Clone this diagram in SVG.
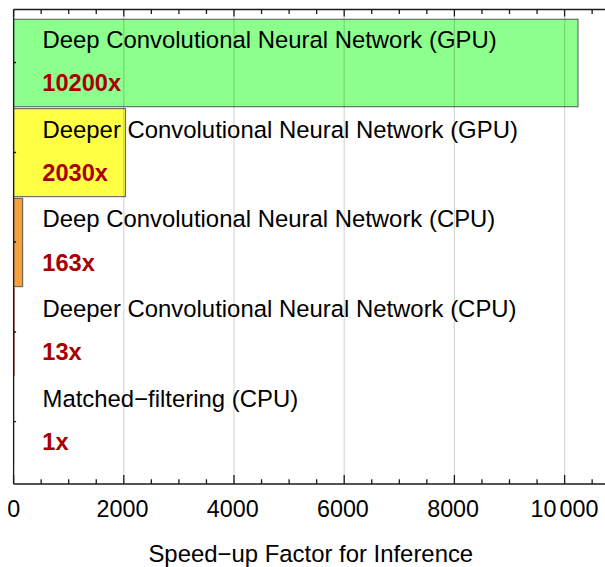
<svg xmlns="http://www.w3.org/2000/svg" width="605" height="567" viewBox="0 0 605 567">
  <style>
    .lbl { font-family: "Liberation Sans", Arial, sans-serif; font-size: 23.9px; fill: #000; }
    .val { font-family: "Liberation Sans", Arial, sans-serif; font-size: 23.6px; font-weight: bold; fill: #a80000; }
    .tick { font-family: "Liberation Sans", Arial, sans-serif; font-size: 23.3px; fill: #000; text-anchor: middle; }
    .axis { stroke: #1a1a1a; stroke-width: 1.3; fill: none; }
    .grid { stroke: #000; stroke-opacity: 0.16; stroke-width: 1.2; }
    .bar { stroke: #444; stroke-opacity: 0.75; stroke-width: 1.2; }
  </style>
  <rect width="605" height="567" fill="#fff"/>

  <!-- bars: x = 13.6 + value * 0.0551 -->
  <g id="bar-dcnn-gpu"><rect class="bar" x="13.6" y="19.3" width="564.4" height="87.4" fill="#8cff8c"/></g>
  <g id="bar-deeper-gpu"><rect class="bar" x="13.6" y="108.6" width="111.9" height="88" fill="#ffff44"/></g>
  <g id="bar-dcnn-cpu"><rect class="bar" x="13.6" y="198.4" width="9" height="88.2" fill="#f7a040"/></g>
  <g id="bar-deeper-cpu"><rect x="13.3" y="287.6" width="1.2" height="88.6" fill="#7a1010"/></g>
  <g id="bar-matched"><rect x="13.1" y="377" width="1" height="88" fill="#222"/></g>

  <!-- grid lines at major ticks -->
  <g id="grid">
    <line class="grid" x1="123.8" y1="9.5" x2="123.8" y2="484"/>
    <line class="grid" x1="234.0" y1="9.5" x2="234.0" y2="484"/>
    <line class="grid" x1="344.2" y1="9.5" x2="344.2" y2="484"/>
    <line class="grid" x1="454.4" y1="9.5" x2="454.4" y2="484"/>
    <line class="grid" x1="564.6" y1="9.5" x2="564.6" y2="484"/>
  </g>

  <!-- frame and ticks -->
  <g id="axes">
    <line class="axis" x1="13.6" y1="9.5" x2="605" y2="9.5"/>
    <line class="axis" x1="13.6" y1="484" x2="605" y2="484"/>
    <line class="axis" x1="13.6" y1="9.5" x2="13.6" y2="484"/>
    <path class="axis" d="M13.6 9.5v7 M123.8 9.5v7 M234 9.5v7 M344.2 9.5v7 M454.4 9.5v7 M564.6 9.5v7
      M41.15 9.5v4.5 M68.7 9.5v4.5 M96.25 9.5v4.5 M151.35 9.5v4.5 M178.9 9.5v4.5 M206.45 9.5v4.5
      M261.55 9.5v4.5 M289.1 9.5v4.5 M316.65 9.5v4.5 M371.75 9.5v4.5 M399.3 9.5v4.5 M426.85 9.5v4.5
      M481.95 9.5v4.5 M509.5 9.5v4.5 M537.05 9.5v4.5 M592.15 9.5v4.5"/>
    <path class="axis" d="M13.6 484v-9 M123.8 484v-9 M234 484v-9 M344.2 484v-9 M454.4 484v-9 M564.6 484v-9
      M41.15 484v-4.7 M68.7 484v-4.7 M96.25 484v-4.7 M151.35 484v-4.7 M178.9 484v-4.7 M206.45 484v-4.7
      M261.55 484v-4.7 M289.1 484v-4.7 M316.65 484v-4.7 M371.75 484v-4.7 M399.3 484v-4.7 M426.85 484v-4.7
      M481.95 484v-4.7 M509.5 484v-4.7 M537.05 484v-4.7 M592.15 484v-4.7"/>
    <path class="axis" d="M13.6 62.5h2.5 M13.6 152.5h2.5 M13.6 242h2.5 M13.6 332h2.5 M13.6 421.7h2.5"/>
  </g>

  <!-- tick labels -->
  <g id="tick-labels">
    <text class="tick" x="13.8" y="516.7">0</text>
    <text class="tick" x="122.5" y="516.7">2000</text>
    <text class="tick" x="232.7" y="516.7">4000</text>
    <text class="tick" x="342.9" y="516.7">6000</text>
    <text class="tick" x="453.1" y="516.7">8000</text>
    <text class="tick" x="564.5" y="516.7">10<tspan dx="3">000</tspan></text>
  </g>

  <text id="x-title" class="lbl" x="310.8" y="562" text-anchor="middle">Speed−up Factor for Inference</text>

  <!-- bar labels -->
  <g id="labels">
    <text class="lbl" x="42.5" y="48.3">Deep Convolutional Neural Network (GPU)</text>
    <text class="val" x="42.3" y="91">10200x</text>
    <text class="lbl" x="42.5" y="137.6">Deeper Convolutional Neural Network (GPU)</text>
    <text class="val" x="42.3" y="180.5">2030x</text>
    <text class="lbl" x="42.5" y="227.2">Deep Convolutional Neural Network (CPU)</text>
    <text class="val" x="42.3" y="270.6">163x</text>
    <text class="lbl" x="42.5" y="317.4">Deeper Convolutional Neural Network (CPU)</text>
    <text class="val" x="42.3" y="360.2">13x</text>
    <text class="lbl" x="42.5" y="406.9">Matched−filtering (CPU)</text>
    <text class="val" x="42.3" y="450">1x</text>
  </g>
</svg>
